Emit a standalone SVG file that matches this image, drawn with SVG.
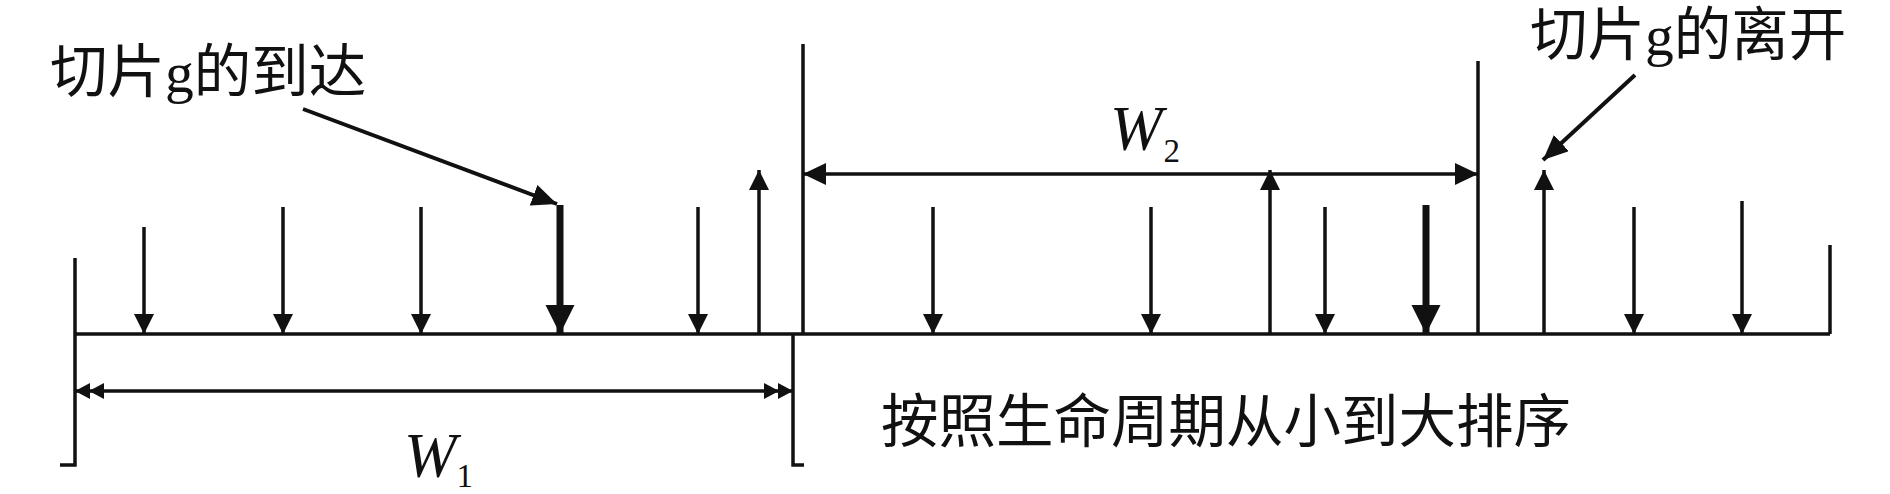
<svg xmlns="http://www.w3.org/2000/svg" width="1890" height="494" viewBox="0 0 1890 494">
<style>
.ln{stroke:#111;stroke-width:3.5;fill:none}
.thin{stroke:#111;stroke-width:3.5;fill:none;marker-end:url(#ah)}
.thick{stroke:#111;stroke-width:7;fill:none;marker-end:url(#ahT)}
.ptr{stroke:#111;stroke-width:4;fill:none;marker-end:url(#ahP)}
.dimW1{stroke:#111;stroke-width:3.5;fill:none;marker-start:url(#ahDD);marker-end:url(#ahDD)}
.dimW2{stroke:#111;stroke-width:3.5;fill:none;marker-start:url(#ahD);marker-end:url(#ahD)}
.lbl{font-family:"Liberation Serif","Noto Sans CJK SC",serif;fill:#111}
.math{font-family:"Liberation Serif",serif;fill:#111}
</style>
<defs>
<marker id="ah" markerUnits="userSpaceOnUse" markerWidth="20" markerHeight="20" refX="20" refY="10" orient="auto"><path d="M0,0 L20,10 L0,20 z" fill="#111"/></marker>
<marker id="ahT" markerUnits="userSpaceOnUse" markerWidth="30" markerHeight="30" refX="29" refY="14.5" orient="auto"><path d="M0,0 L29,14.5 L0,29 z" fill="#111"/></marker>
<marker id="ahD" markerUnits="userSpaceOnUse" markerWidth="24" markerHeight="22" refX="23" refY="11" orient="auto-start-reverse"><path d="M0,0 L23,11 L0,22 z" fill="#111"/></marker>
<marker id="ahDD" markerUnits="userSpaceOnUse" markerWidth="30" markerHeight="16" refX="29" refY="8" orient="auto-start-reverse"><path d="M0,0 L15,8 L0,16 z M14,0 L29,8 L14,16 z" fill="#111"/></marker>
<marker id="ahP" markerUnits="userSpaceOnUse" markerWidth="26" markerHeight="22" refX="25" refY="11" orient="auto"><path d="M0,0 L25,11 L0,22 z" fill="#111"/></marker>
</defs>

<g id="axis">
<line class="ln" x1="75" y1="334" x2="1830" y2="334"/>
<polyline class="ln" points="60,465 75,465 75,258"/>
<line class="ln" x1="1830" y1="334" x2="1830" y2="245"/>
</g>

<g id="window-W1">
<polyline class="ln" points="804,465 793,465 793,334"/>
</g>

<g id="window-W2">
<line class="ln" x1="803" y1="334" x2="803" y2="44"/>
<line class="ln" x1="1478" y1="334" x2="1478" y2="61"/>
</g>

<g id="connectors">
<line class="thin" x1="144" y1="227" x2="144" y2="334"/>
<line class="thin" x1="283" y1="207" x2="283" y2="334"/>
<line class="thin" x1="421" y1="207" x2="421" y2="334"/>
<line class="thick" x1="560" y1="205" x2="560" y2="334"/>
<line class="thin" x1="698" y1="207" x2="698" y2="334"/>
<line class="thin" x1="759" y1="334" x2="759" y2="170"/>
<line class="thin" x1="933" y1="207" x2="933" y2="334"/>
<line class="thin" x1="1151" y1="207" x2="1151" y2="334"/>
<line class="thin" x1="1270" y1="334" x2="1270" y2="170"/>
<line class="thin" x1="1325" y1="207" x2="1325" y2="334"/>
<line class="thick" x1="1426" y1="205" x2="1426" y2="334"/>
<line class="thin" x1="1544" y1="334" x2="1544" y2="170"/>
<line class="thin" x1="1634" y1="207" x2="1634" y2="334"/>
<line class="thin" x1="1742" y1="201" x2="1742" y2="334"/>
<line class="dimW1" x1="75" y1="391" x2="793" y2="391"/>
<line class="dimW2" x1="803" y1="174" x2="1478" y2="174"/>
<line class="ptr" x1="303" y1="109" x2="557" y2="204"/>
<line class="ptr" x1="1635" y1="75" x2="1543" y2="160"/>
</g>

<g id="label-arrive">
<text class="lbl" x="50" y="92" font-size="57.5">切片g的到达</text>
</g>
<g id="label-leave">
<text class="lbl" x="1530" y="55" font-size="57.5">切片g的离开</text>
</g>
<g id="label-sort">
<text class="lbl" x="881" y="442" font-size="57.5">按照生命周期从小到大排序</text>
</g>
<g id="label-W1">
<text class="math" x="404" y="477" font-size="63"><tspan font-style="italic">W</tspan><tspan dx="0" dy="10" font-size="33">1</tspan></text>
</g>
<g id="label-W2">
<text class="math" x="1110" y="150" font-size="63"><tspan font-style="italic">W</tspan><tspan dx="1" dy="12" font-size="33">2</tspan></text>
</g>
</svg>
